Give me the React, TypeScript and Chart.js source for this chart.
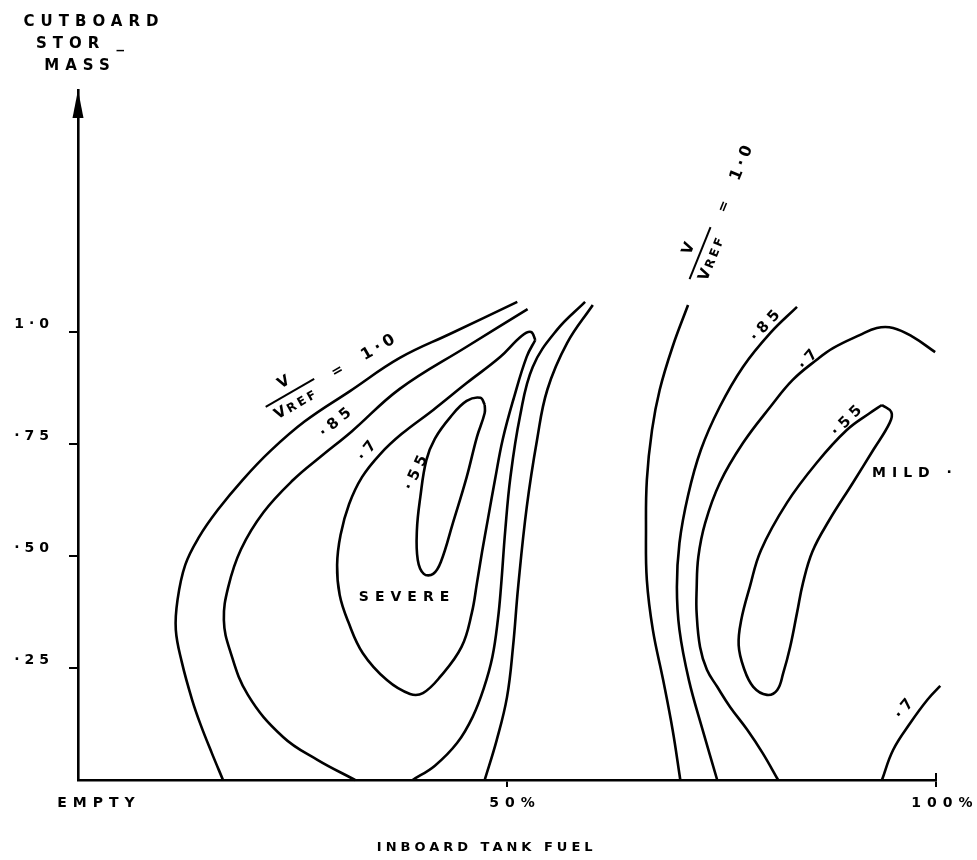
import React, { useEffect, useRef } from "react";
import { Chart, registerables } from "chart.js";

Chart.register(...registerables);

// x = inboard tank fuel (% of full), y = outboard store mass (relative)
// Contours of V / VREF.

// ---- "SEVERE" region (left group) ----
const severeRatio100Left: number[][] = [
  [51.2, 1.067], [43.4, 0.996], [37.5, 0.942], [31.7, 0.868], [26.4, 0.8], [22.4, 0.734],
  [19.2, 0.67], [16.3, 0.603], [14.1, 0.542], [12.5, 0.48], [11.6, 0.402], [11.4, 0.335],
  [12.1, 0.263], [13.3, 0.179], [14.3, 0.123], [15.6, 0.06], [16.9, 0],
];
const severeRatio100Right: number[][] = [
  [60.0, 1.06], [57.0, 0.975], [54.7, 0.871], [53.5, 0.759], [52.3, 0.609], [51.3, 0.431],
  [50.7, 0.297], [50.0, 0.185], [48.8, 0.089], [47.4, 0],
];
const severeRatio085Left: number[][] = [
  [52.4, 1.051], [45.3, 0.967], [37.5, 0.873], [31.9, 0.778], [28.3, 0.722], [25.1, 0.67],
  [21.6, 0.597], [19.0, 0.515], [17.5, 0.43], [17.0, 0.357], [17.7, 0.29], [19.8, 0.19],
  [23.9, 0.096], [27.9, 0.045], [32.3, 0],
];
const severeRatio085Right: number[][] = [
  [59.1, 1.067], [55.8, 1.004], [53.0, 0.922], [51.5, 0.81], [50.4, 0.676], [49.8, 0.558],
  [49.3, 0.431], [48.95, 0.36], [48.3, 0.275], [47.3, 0.205], [46.0, 0.141], [44.2, 0.083],
  [41.6, 0.032], [39.0, 0],
];
const severeRatio070: number[][] = [
  [53.3, 0.982], [52.8, 1.0], [51.7, 0.991], [49.2, 0.944], [45.3, 0.886], [41.4, 0.826],
  [37.7, 0.772], [35.2, 0.727], [33.1, 0.676], [31.6, 0.616], [30.6, 0.547], [30.2, 0.48],
  [30.5, 0.413], [31.5, 0.353], [33.2, 0.283], [36.0, 0.223], [38.7, 0.192], [40.2, 0.194],
  [42.2, 0.23], [44.7, 0.297], [45.9, 0.373], [46.5, 0.44], [47.1, 0.51], [47.8, 0.585],
  [48.6, 0.67], [49.5, 0.76], [50.8, 0.853], [52.3, 0.945], [53.3, 0.982],
];
const severeRatio055: number[][] = [
  [47.4, 0.838], [46.9, 0.853], [45.3, 0.846], [43.4, 0.81], [41.6, 0.762], [40.6, 0.714],
  [39.9, 0.632], [39.5, 0.558], [39.6, 0.491], [40.3, 0.46], [41.4, 0.46], [42.3, 0.487],
  [43.7, 0.574], [45.3, 0.676], [46.5, 0.766], [47.4, 0.819], [47.4, 0.838],
];

// ---- "MILD" region (right group) ----
const mildRatio100: number[][] = [
  [71.1, 1.06], [69.3, 0.967], [67.8, 0.871], [66.9, 0.781], [66.3, 0.67], [66.2, 0.558],
  [66.3, 0.446], [67.0, 0.335], [68.2, 0.223], [69.3, 0.112], [70.2, 0],
];
const mildRatio085: number[][] = [
  [83.8, 1.056], [80.7, 0.998], [77.5, 0.922], [74.8, 0.833], [72.6, 0.737], [71.1, 0.635],
  [70.1, 0.529], [69.8, 0.43], [70.1, 0.335], [71.2, 0.223], [72.8, 0.112], [74.5, 0],
];
const mildRatio070: number[][] = [
  [99.9, 0.955], [97.3, 0.989], [95.0, 1.009], [93.1, 1.009], [91.1, 0.993], [88.0, 0.964],
  [86.1, 0.938], [83.3, 0.893], [80.7, 0.833], [77.5, 0.752], [74.8, 0.663], [73.1, 0.574],
  [72.3, 0.498], [72.1, 0.424], [72.1, 0.373], [72.5, 0.297], [73.3, 0.246], [74.5, 0.208],
  [76.0, 0.163], [78.0, 0.112], [79.8, 0.06], [81.6, 0],
];
const mildRatio055: number[][] = [
  [93.7, 0.837], [94.8, 0.821], [94.6, 0.797], [92.7, 0.737], [90.3, 0.663], [87.5, 0.578],
  [85.6, 0.51], [84.5, 0.44], [83.8, 0.373], [83.0, 0.297], [82.2, 0.239], [81.5, 0.201],
  [80.3, 0.19], [78.7, 0.208], [77.6, 0.25], [77.0, 0.301], [77.3, 0.357], [78.3, 0.431],
  [79.6, 0.513], [82.6, 0.618], [86.1, 0.708], [89.6, 0.781], [92.3, 0.819], [93.7, 0.837],
];
const mildRatio070Corner: number[][] = [
  [93.7, 0], [95.0, 0.067], [97.0, 0.127], [99.0, 0.179], [100.5, 0.21], [101.6, 0.23],
];

const contourCurves = [
  severeRatio100Left, severeRatio100Right, severeRatio085Left, severeRatio085Right,
  severeRatio070, severeRatio055, mildRatio100, mildRatio085, mildRatio070,
  mildRatio055, mildRatio070Corner,
];

// ---- axes / text ----
const titleLines = ["CUTBOARD", "STOR _", "MASS"];
const xTickValues = [0, 50, 100];
const xTickLabels = ["EMPTY", "50%", "100%"];
const yTickValues = [0.25, 0.5, 0.75, 1.0];
const yTickLabels = ["·25", "·50", "·75", "1·0"];
const xAxisTitle = "INBOARD TANK FUEL";

const contourLabels = [
  { text: "·85", x: 30.0, y: 0.797, angle: -40 },
  { text: "·7", x: 33.7, y: 0.734, angle: -52 },
  { text: "·55", x: 39.4, y: 0.685, angle: -65 },
  { text: "·85", x: 80.1, y: 1.013, angle: -48 },
  { text: "·7", x: 85.1, y: 0.9375, angle: -50 },
  { text: "·55", x: 89.6, y: 0.801, angle: -45 },
  { text: "·7", x: 96.3, y: 0.158, angle: -51 },
];
const regionLabels = [
  { text: "SEVERE", x: 38.0, y: 0.408 },
  { text: "MILD ·", x: 97.2, y: 0.685 },
];
const ratioLabels = [
  { x: 24.7, y: 0.864, angle: -30, value: "1·0" },
  { x: 72.5, y: 1.176, angle: -68, value: "1·0" },
];

const FONT = '"DejaVu Sans", sans-serif';

function drawText(ctx: any, s: string, x: number, y: number, size: number, spacing: number, angle = 0, align = "center") {
  ctx.save();
  ctx.translate(x, y);
  ctx.rotate((angle * Math.PI) / 180);
  ctx.font = `bold ${size}px ${FONT}`;
  ctx.letterSpacing = `${spacing}px`;
  ctx.textAlign = align;
  ctx.textBaseline = "middle";
  ctx.fillStyle = "#000";
  ctx.fillText(s, align === "center" ? spacing / 2 : 0, 0);
  ctx.restore();
}

function drawRatio(ctx: any, x: number, y: number, angle: number, value: string) {
  const rad = (angle * Math.PI) / 180;
  ctx.save();
  ctx.translate(x, y);
  ctx.rotate(rad);
  ctx.strokeStyle = "#000";
  ctx.lineWidth = 2;
  ctx.beginPath();
  ctx.moveTo(-28, 0);
  ctx.lineTo(28, 0);
  ctx.stroke();
  ctx.restore();
  const ux = Math.cos(rad), uy = Math.sin(rad);
  const nx = -Math.sin(rad), ny = Math.cos(rad);
  const at = (lx: number, ly: number) => [x + lx * ux + ly * nx, y + lx * uy + ly * ny];
  let p = at(0, -12);
  drawText(ctx, "V", p[0], p[1], 15, 0, angle);
  // VREF with smaller REF
  ctx.save();
  p = at(0, 13);
  ctx.translate(p[0], p[1]);
  ctx.rotate(rad);
  ctx.fillStyle = "#000";
  ctx.textBaseline = "middle";
  ctx.textAlign = "left";
  ctx.font = `bold 15px ${FONT}`;
  ctx.letterSpacing = "2px";
  const wV = ctx.measureText("V").width;
  ctx.font = `bold 12px ${FONT}`;
  ctx.letterSpacing = "3px";
  const wR = ctx.measureText("REF").width;
  const start = -(wV + wR) / 2;
  ctx.font = `bold 15px ${FONT}`;
  ctx.letterSpacing = "2px";
  ctx.fillText("V", start, 0);
  ctx.font = `bold 12px ${FONT}`;
  ctx.letterSpacing = "3px";
  ctx.fillText("REF", start + wV, 1);
  ctx.restore();
  p = at(52, 5);
  drawText(ctx, "=", p[0], p[1], 14, 0, angle);
  p = at(99, 5);
  drawText(ctx, value, p[0], p[1], 16, 4, angle);
}

const lettering = {
  id: "lettering",
  beforeDraw(chart: any) {
    chart.ctx.letterSpacing = "5px";
  },
  afterDraw(chart: any) {
    const { ctx, chartArea } = chart;
    const xs = chart.scales.x;
    const ys = chart.scales.y;
    ctx.save();
    // arrow head on the y axis
    const ax = chartArea.left;
    const ay = chartArea.top;
    ctx.fillStyle = "#000";
    ctx.beginPath();
    ctx.moveTo(ax, ay);
    ctx.lineTo(ax - 5.5, ay + 28);
    ctx.lineTo(ax + 5.5, ay + 28);
    ctx.closePath();
    ctx.fill();

    // 100% tick also rises above the axis
    ctx.strokeStyle = "#000";
    ctx.lineWidth = 2;
    const x100 = xs.getPixelForValue(100);
    ctx.beginPath();
    ctx.moveTo(x100, chartArea.bottom - 7);
    ctx.lineTo(x100, chartArea.bottom);
    ctx.stroke();

    // y axis title
    const titlePos = [[91, 22], [80, 44], [77, 66]];
    titleLines.forEach((t, i) => drawText(ctx, t, titlePos[i][0], titlePos[i][1], 15, 6));

    // x tick labels
    const shift = [18, 5, 6];
    xTickLabels.forEach((t, i) => {
      drawText(ctx, t, xs.getPixelForValue(xTickValues[i]) + shift[i], chartArea.bottom + 23, 14, 6);
    });
    // x axis title
    drawText(ctx, xAxisTitle, xs.getPixelForValue(47.4), chartArea.bottom + 68, 13, 4);

    contourLabels.forEach((l) => {
      drawText(ctx, l.text, xs.getPixelForValue(l.x), ys.getPixelForValue(l.y), 15, 5, l.angle);
    });
    regionLabels.forEach((l) => {
      drawText(ctx, l.text, xs.getPixelForValue(l.x), ys.getPixelForValue(l.y), 14, 6);
    });
    ratioLabels.forEach((l) => {
      drawRatio(ctx, xs.getPixelForValue(l.x), ys.getPixelForValue(l.y), l.angle, l.value);
    });
    ctx.restore();
  },
};

export default function App() {
  const ref = useRef<HTMLCanvasElement>(null);
  useEffect(() => {
    const canvas = ref.current;
    if (!canvas) return;
    const chart = new Chart(canvas, {
      type: "scatter",
      data: {
        datasets: contourCurves.map((c) => ({
          data: c.map(([x, y]) => ({ x, y })),
          showLine: true,
          borderColor: "#000",
          backgroundColor: "#000",
          borderWidth: 2.6,
          pointRadius: 0,
          pointHoverRadius: 0,
          tension: 0.4,
          fill: false,
          clip: false,
        })),
      },
      options: {
        responsive: false,
        animation: false,
        devicePixelRatio: 1,
        events: [],
        layout: { padding: { top: 90, right: 41, bottom: 0, left: 0 } },
        plugins: { legend: { display: false }, tooltip: { enabled: false } },
        scales: {
          x: {
            type: "linear",
            min: 0,
            max: 100,
            afterBuildTicks: (s: any) => {
              s.ticks = xTickValues.filter((v) => v > 0).map((v) => ({ value: v }));
            },
            afterFit: (s: any) => {
              s.height = 80;
            },
            ticks: { display: false },
            grid: { display: true, drawOnChartArea: false, drawTicks: true, tickLength: 7, color: "#000", lineWidth: 2 },
            border: { display: true, color: "#000", width: 2.6 },
          },
          y: {
            type: "linear",
            min: 0,
            max: 1.54,
            afterBuildTicks: (s: any) => {
              s.ticks = yTickValues.map((v) => ({ value: v }));
            },
            afterFit: (s: any) => {
              s.width = 78;
            },
            ticks: {
              callback: (_v: any, i: number) => yTickLabels[i],
              color: "#000",
              font: { family: FONT, size: 14, weight: "bold" },
              padding: 15,
              labelOffset: -8,
            },
            grid: { display: true, drawOnChartArea: false, drawTicks: true, tickLength: 9, color: "#000", lineWidth: 2 },
            border: { display: true, color: "#000", width: 2.6 },
          },
        },
      } as any,
      plugins: [lettering],
    });
    return () => chart.destroy();
  }, []);
  return (
    <div style={{ position: "absolute", left: 0, top: 0, width: 977, height: 860, background: "#fff" }}>
      <canvas ref={ref} width={977} height={860} style={{ display: "block" }} />
    </div>
  );
}
